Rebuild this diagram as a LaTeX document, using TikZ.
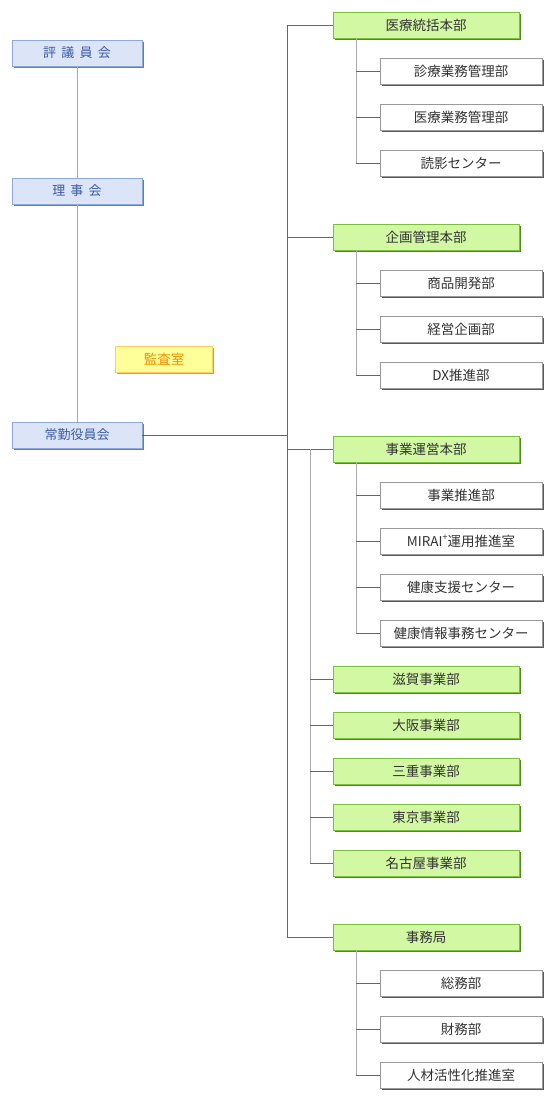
\documentclass[tikz,border=0pt]{standalone}
\usepackage{fontspec}
\setmainfont{Noto Sans CJK JP}
\usepackage{xcolor}
\usepackage{tikz}
\usetikzlibrary{positioning,calc,shadows}
\definecolor{blfill}{HTML}{DCE5F8}
\definecolor{bldraw}{HTML}{8FA8DC}
\definecolor{blshad}{HTML}{5A7CC8}
\definecolor{bltext}{HTML}{3A5BA8}
\definecolor{grfill}{HTML}{D2F8A4}
\definecolor{grdraw}{HTML}{7BBF3F}
\definecolor{grshad}{HTML}{4E8A1F}
\definecolor{yefill}{HTML}{FFFF99}
\definecolor{yedraw}{HTML}{FFCC66}
\definecolor{yeshad}{HTML}{FF9900}
\definecolor{yetext}{HTML}{F08C00}
\definecolor{lndark}{HTML}{666666}
\definecolor{lnlite}{HTML}{AAAAAA}
\tikzset{
  bbx/.style={draw=bldraw,fill=blfill,text=bltext,minimum width=130pt,minimum height=26pt,inner sep=0pt,
    font=\fontsize{13}{15}\selectfont,drop shadow={shadow xshift=1.5pt,shadow yshift=-1.5pt,fill=blshad,opacity=1}},
  ybx/.style={draw=yedraw,fill=yefill,text=yetext,minimum width=97pt,minimum height=26pt,inner sep=0pt,
    font=\fontsize{13.5}{15}\selectfont,drop shadow={shadow xshift=1.5pt,shadow yshift=-1.5pt,fill=yeshad,opacity=1}},
  gbx/.style={draw=grdraw,fill=grfill,text=black!80,minimum width=186pt,minimum height=26pt,inner sep=0pt,
    font=\fontsize{13.5}{15}\selectfont,drop shadow={shadow xshift=1.5pt,shadow yshift=-1.5pt,fill=grshad,opacity=1}},
  wbx/.style={draw=black!40,fill=white,text=black!80,minimum width=162pt,minimum height=26pt,inner sep=0pt,
    font=\fontsize{13.5}{15}\selectfont,drop shadow={shadow xshift=1.5pt,shadow yshift=-1.5pt,fill=black!65,opacity=1}},
  ln/.style={draw=lndark,line width=0.8pt},
  lnl/.style={draw=lnlite,line width=1pt},
}
\newcommand{\gap}{\hspace{0.4em}}
\begin{document}
\begin{tikzpicture}[x=1pt,y=-1pt]
  \useasboundingbox (0,0) rectangle (556,1103);
  % left column
  \node[bbx] (hyo) at (77,53) {評\gap 議\gap 員\gap 会};
  \node[bbx] (rij) at (77,191) {理\gap 事\gap 会};
  \node[bbx] (jok) at (77,435) {常勤役員会};
  \node[ybx] (kan) at (164,359) {監査室};
  % trunks
  \coordinate (trk) at (287,0);
  \coordinate (trk2) at (310,0);
  \coordinate (sub) at (356,0);
  % head offices
  \node[gbx] (g1) at (426,25) {医療統括本部};
  \node[gbx] (g2) at (426,237) {企画管理本部};
  \node[gbx] (g3) at (426,449) {事業運営本部};
  \node[gbx] (shiga) at (426,679) {滋賀事業部};
  \node[gbx] (osaka) at (426,725) {大阪事業部};
  \node[gbx] (mie) at (426,771) {三重事業部};
  \node[gbx] (tokyo) at (426,817) {東京事業部};
  \node[gbx] (nagoya) at (426,863) {名古屋事業部};
  \node[gbx] (g9) at (426,937) {事務局};
  % sections
  \node[wbx] (c11) at (461,71) {診療業務管理部};
  \node[wbx] (c12) at (461,117) {医療業務管理部};
  \node[wbx] (c13) at (461,163) {読影センター};
  \node[wbx] (c21) at (461,283) {商品開発部};
  \node[wbx] (c22) at (461,329) {経営企画部};
  \node[wbx] (c23) at (461,375) {DX推進部};
  \node[wbx] (c31) at (461,495) {事業推進部};
  \node[wbx] (c32) at (461,541) {MIRAI\raisebox{0.45em}{\fontsize{9}{9}\selectfont +}運用推進室};
  \node[wbx] (c33) at (461,587) {健康支援センター};
  \node[wbx] (c34) at (461,633) {健康情報事務センター};
  \node[wbx] (c91) at (461,983) {総務部};
  \node[wbx] (c92) at (461,1029) {財務部};
  \node[wbx] (c93) at (461,1075) {人材活性化推進室};
  % connectors
  \draw[lnl] (hyo) -- (rij);
  \draw[lnl] (rij) -- (jok);
  \draw[ln] (g1.west -| trk) -- (g9.west -| trk);
  \draw[ln] (jok.east) -- (jok.east -| trk);
  \foreach \g in {g1,g2,g3,g9}
    \draw[ln] (\g.west) -- (\g.west -| trk);
  \draw[lnl] (g3.west -| trk2) -- (nagoya.west -| trk2);
  \foreach \j in {shiga,osaka,mie,tokyo,nagoya}
    \draw[ln] (\j.west) -- (\j.west -| trk2);
  \draw[lnl] (g1.south -| sub) -- (c13.west -| sub);
  \draw[lnl] (g2.south -| sub) -- (c23.west -| sub);
  \draw[lnl] (g3.south -| sub) -- (c34.west -| sub);
  \draw[lnl] (g9.south -| sub) -- (c93.west -| sub);
  \foreach \c in {c11,c12,c13,c21,c22,c23,c31,c32,c33,c34,c91,c92,c93}
    \draw[ln] (\c.west) -- (\c.west -| sub);
\end{tikzpicture}
\end{document}
